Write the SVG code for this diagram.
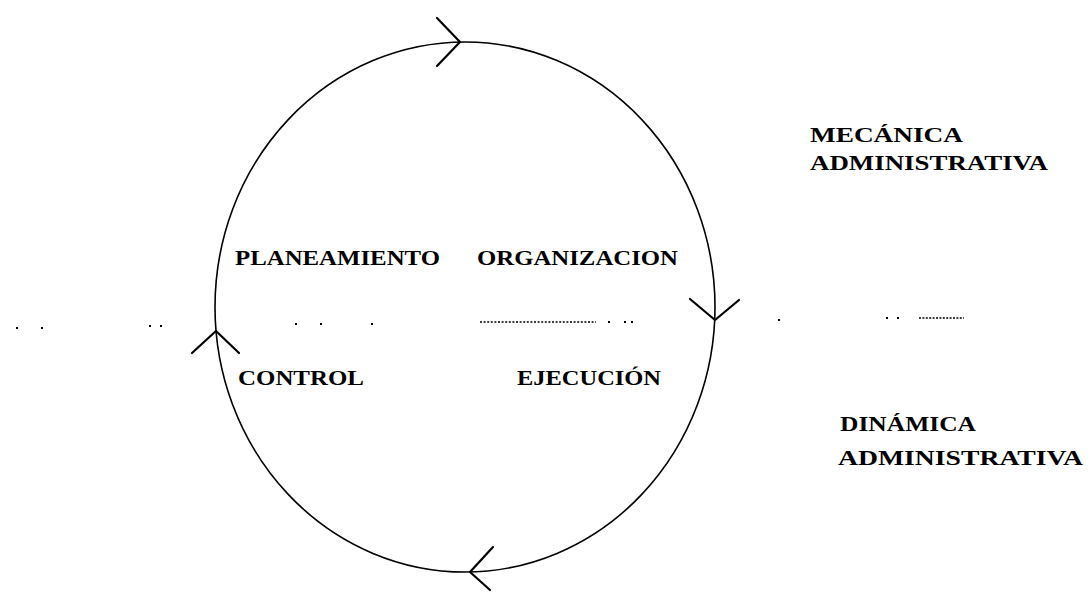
<svg xmlns="http://www.w3.org/2000/svg" width="1091" height="592" viewBox="0 0 1091 592">
<style>
.lbl{font-family:"Liberation Serif","Times New Roman",serif;font-size:21px;font-weight:bold;fill:#000;}
.ln{fill:none;stroke:#000;stroke-width:1.6;}
.ah{fill:none;stroke:#000;stroke-width:2.2;stroke-linecap:round;stroke-linejoin:round;}
.dot{fill:#000;}
</style>
<rect width="1091" height="592" fill="#fff"/>
<g id="connectors">
<ellipse class="ln" cx="465" cy="307" rx="250" ry="265"/>
<polyline class="ah" points="437,18 460,42 437,66"/>
<polyline class="ah" points="690,299 715,320 739,300"/>
<polyline class="ah" points="493,547 470,572 490,590"/>
<polyline class="ah" points="192,353 216,331 239,353"/>
</g>
<g id="divider">
<rect class="dot" x="16" y="327" width="2" height="2"/>
<rect class="dot" x="41" y="327" width="2" height="2"/>
<rect class="dot" x="149" y="325" width="2" height="2"/>
<rect class="dot" x="160" y="325" width="2" height="2"/>
<rect class="dot" x="295" y="323" width="2" height="2"/>
<rect class="dot" x="320" y="323" width="2" height="2"/>
<rect class="dot" x="371" y="323" width="2" height="2"/>
<line x1="480" y1="322" x2="596" y2="322" stroke="#000" stroke-width="1.6" stroke-dasharray="2 1.6"/>
<rect class="dot" x="608" y="321" width="2" height="2"/>
<rect class="dot" x="624" y="321" width="2" height="2"/>
<rect class="dot" x="631" y="321" width="2" height="2"/>
<rect class="dot" x="778" y="319" width="2" height="2"/>
<rect class="dot" x="886" y="317" width="2" height="2"/>
<rect class="dot" x="897" y="317" width="2" height="2"/>
<line x1="919" y1="318" x2="964" y2="318" stroke="#000" stroke-width="1.6" stroke-dasharray="2 1.4"/>
</g>
<g id="planeamiento"><text class="lbl" x="235" y="265" textLength="205" lengthAdjust="spacingAndGlyphs">PLANEAMIENTO</text></g>
<g id="organizacion"><text class="lbl" x="477" y="265" textLength="201" lengthAdjust="spacingAndGlyphs">ORGANIZACION</text></g>
<g id="control"><text class="lbl" x="238" y="385" textLength="126" lengthAdjust="spacingAndGlyphs">CONTROL</text></g>
<g id="ejecucion"><text class="lbl" x="517" y="385" textLength="144" lengthAdjust="spacingAndGlyphs">EJECUCIÓN</text></g>
<g id="mecanica">
<text class="lbl" x="810" y="142" textLength="153" lengthAdjust="spacingAndGlyphs">MECÁNICA</text>
<text class="lbl" x="810" y="170" textLength="238" lengthAdjust="spacingAndGlyphs">ADMINISTRATIVA</text>
</g>
<g id="dinamica">
<text class="lbl" x="840" y="431" textLength="136" lengthAdjust="spacingAndGlyphs">DINÁMICA</text>
<text class="lbl" x="838" y="465" textLength="245" lengthAdjust="spacingAndGlyphs">ADMINISTRATIVA</text>
</g>
</svg>
